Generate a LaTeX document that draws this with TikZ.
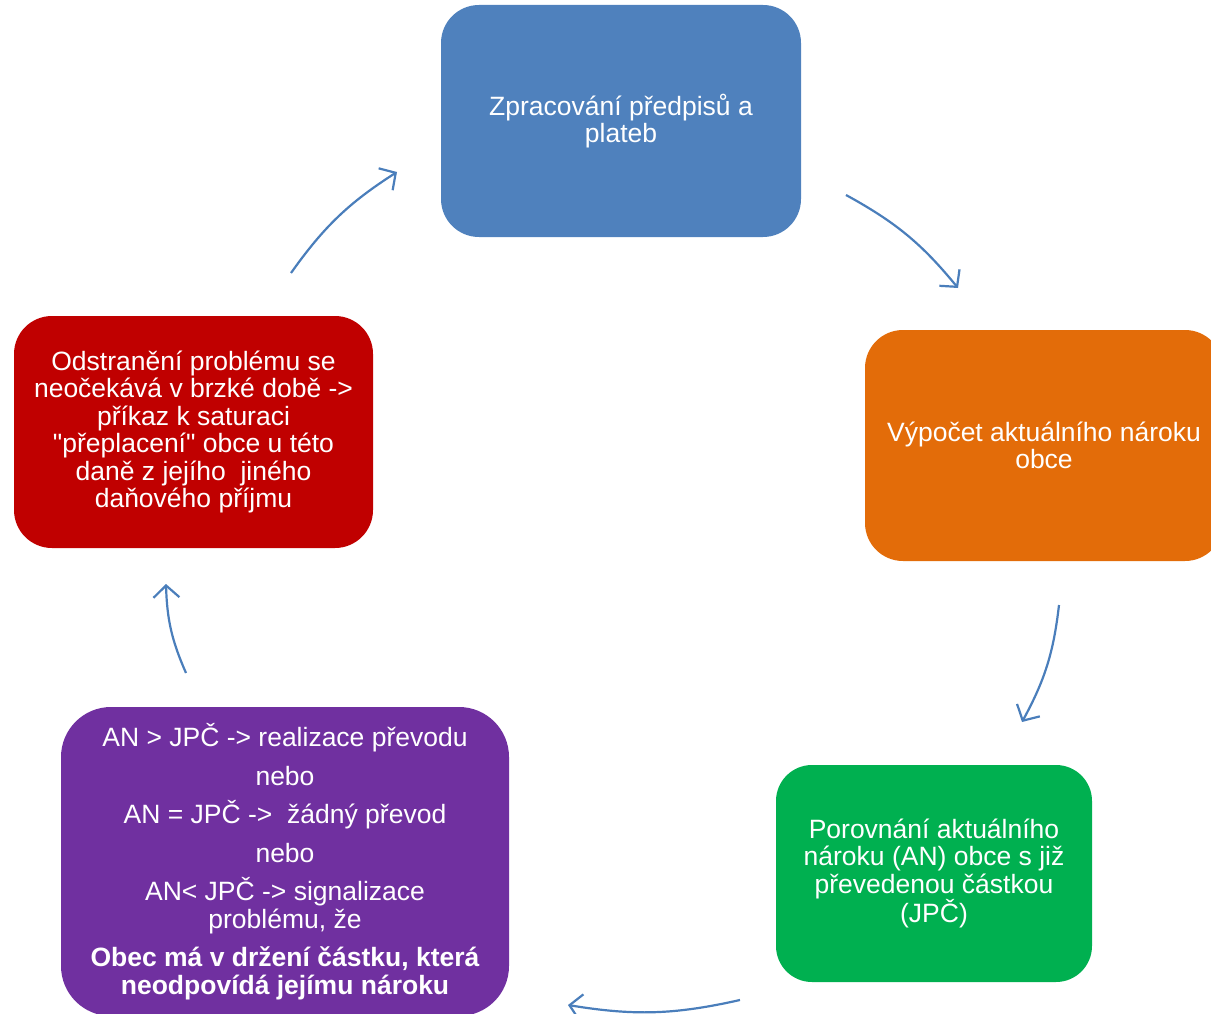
\documentclass[tikz,border=0pt]{standalone}
\usepackage{fontspec}
\setmainfont{Liberation Sans}[Ligatures=TeXOff]
\usetikzlibrary{arrows.meta}
\definecolor{cblue}{HTML}{4F81BD}
\definecolor{corange}{HTML}{E36C09}
\definecolor{cgreen}{HTML}{00B050}
\definecolor{cpurple}{HTML}{7030A0}
\definecolor{cred}{HTML}{C00000}
\definecolor{carrow}{HTML}{4A7EBB}
\tikzset{
  box/.style={fill=#1, draw=none, text=white, align=center,
    font=\fontsize{26.5}{27.5}\selectfont, inner sep=0pt},
  cyc/.style={draw=carrow, line width=2.2pt, bend left=11,
    -{Straight Barb[length=12pt,width=26pt,line width=2.2pt]}}
}
\begin{document}
\begin{tikzpicture}[x=1pt,y=-1pt]
\useasboundingbox (0,0) rectangle (1211,1014);
\node[box=cblue, minimum width=360pt, minimum height=232pt, rounded corners=38pt] (plat) at (621,121)
  {Zpracování předpisů a\\plateb};
\node[box=corange, minimum width=358pt, minimum height=231pt, rounded corners=38pt] (narok) at (1044,445.5)
  {Výpočet aktuálního nároku\\obce};
\node[box=cgreen, minimum width=316pt, minimum height=217pt, rounded corners=36pt] (porov) at (934,873.5)
  {Porovnání aktuálního\\nároku (AN) obce s již\\převedenou částkou\\(JPČ)};
\node[box=cpurple, minimum width=448pt, minimum height=309pt, rounded corners=50pt] (vysl) at (285,861.5)
  {AN > JPČ -> realizace převodu\\[11pt]nebo\\[11pt]AN = JPČ ->\ \ žádný převod\\[11pt]nebo\\[11pt]AN< JPČ -> signalizace\\problému, že\\[11pt]\textbf{Obec má v držení částku, která}\\\textbf{neodpovídá jejímu nároku}};
\node[box=cred, minimum width=359pt, minimum height=232pt, rounded corners=38pt] (satur) at (193.5,432)
  {Odstranění problému se\\neočekává v brzké době ->\\příkaz k saturaci\\"přeplacení" obce u této\\daně z jejího\ \ jiného\\daňového příjmu};
\coordinate (a1s) at (291,273);  \coordinate (a1e) at (397,172);
\coordinate (a2s) at (846,195);  \coordinate (a2e) at (958,288);
\coordinate (a3s) at (1059,605); \coordinate (a3e) at (1022,722);
\coordinate (a4s) at (740,1000); \coordinate (a4e) at (568,1005);
\coordinate (a5s) at (186,673);  \coordinate (a5e) at (166,584);
\draw[cyc] (a1s) to (a1e);
\draw[cyc] (a2s) to (a2e);
\draw[cyc] (a3s) to (a3e);
\draw[cyc] (a4s) to (a4e);
\draw[cyc] (a5s) to (a5e);
\end{tikzpicture}
\end{document}
